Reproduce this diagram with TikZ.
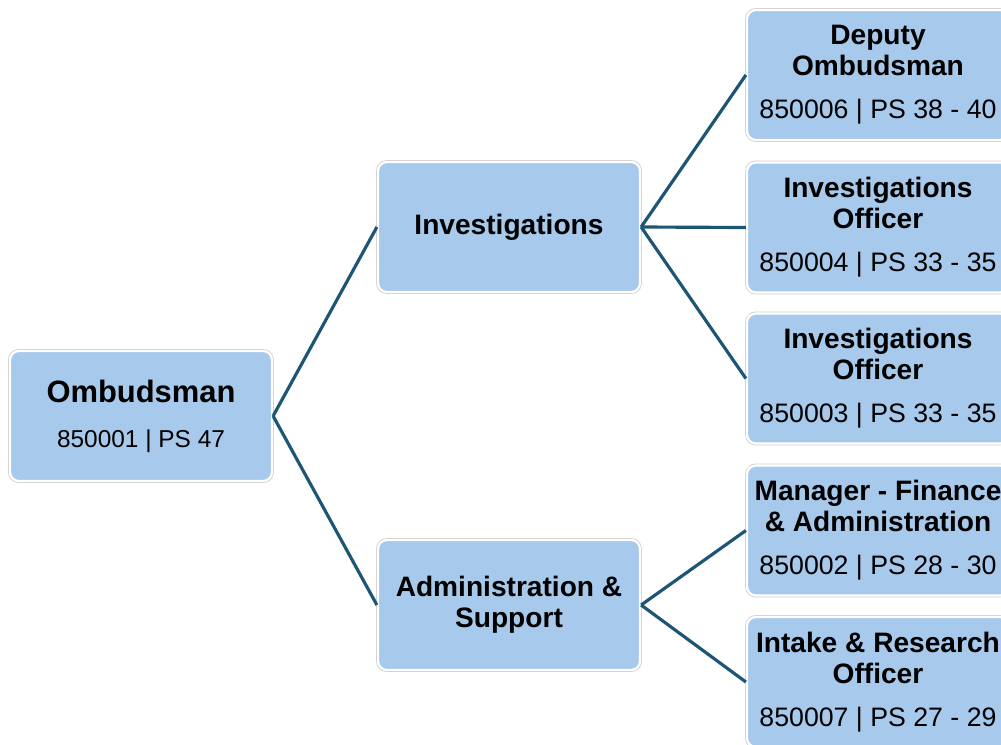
\documentclass[tikz,border=0pt]{standalone}
\usepackage{fontspec}
\setmainfont{Liberation Sans}
\definecolor{boxblue}{HTML}{A7CAEC}
\definecolor{linkteal}{HTML}{1D5574}
\definecolor{rimgray}{HTML}{CFCFCF}
\usetikzlibrary{positioning}
\newcommand{\ttl}[1]{{\fontsize{16}{17.6}\selectfont\bfseries #1}}

\begin{document}
\begin{tikzpicture}[x=0.02cm, y=-0.02cm,
  orgbox/.style={rectangle, fill=boxblue, draw=white, line width=1.3pt,
    preaction={draw=rimgray, line width=2.2pt},
    minimum width=5.24cm, minimum height=2.6cm, inner sep=0pt,
    align=center, rounded corners=5pt, text=black,
    font=\fontsize{15.2}{17.6}\selectfont},
  orgline/.style={draw=linkteal, line width=1.8pt}]
  \clip (0,0) rectangle (1001,744);
  \fill[white] (0,0) rectangle (1001,744);

  % top level
  \node[orgbox, font=\fontsize{13.9}{17.6}\selectfont] (omb) at (141,416)
    {{\fontsize{17.6}{17.6}\selectfont\bfseries Ombudsman}\\[8pt]850001 | PS 47};

  % sections
  \node[orgbox] (inv) at (509,227) {\ttl{Investigations}};
  \node[orgbox] (adm) at (509,605) {\ttl{Administration \&}\\\ttl{Support}};

  % positions
  \node[orgbox] (dep) at (878,75)
    {\ttl{Deputy}\\\ttl{Ombudsman}\\[6.8pt]850006 | PS 38 - 40};
  \node[orgbox] (io1) at (878,227.5)
    {\ttl{Investigations}\\\ttl{Officer}\\[6.8pt]850004 | PS 33 - 35};
  \node[orgbox] (io2) at (878,378.5)
    {\ttl{Investigations}\\\ttl{Officer}\\[6.8pt]850003 | PS 33 - 35};
  \node[orgbox] (mgr) at (878,530.5)
    {\ttl{Manager - Finance}\\\ttl{\& Administration}\\[6.8pt]850002 | PS 28 - 30};
  \node[orgbox] (iro) at (878,682)
    {\ttl{Intake \& Research}\\\ttl{Officer}\\[6.8pt]850007 | PS 27 - 29};

  % connectors
  \draw[orgline] (omb.east) -- (inv.west);
  \draw[orgline] (omb.east) -- (adm.west);
  \foreach \t in {dep,io1,io2}
    \draw[orgline] (inv.east) -- (\t.west);
  \foreach \t in {mgr,iro}
    \draw[orgline] (adm.east) -- (\t.west);
\end{tikzpicture}
\end{document}
